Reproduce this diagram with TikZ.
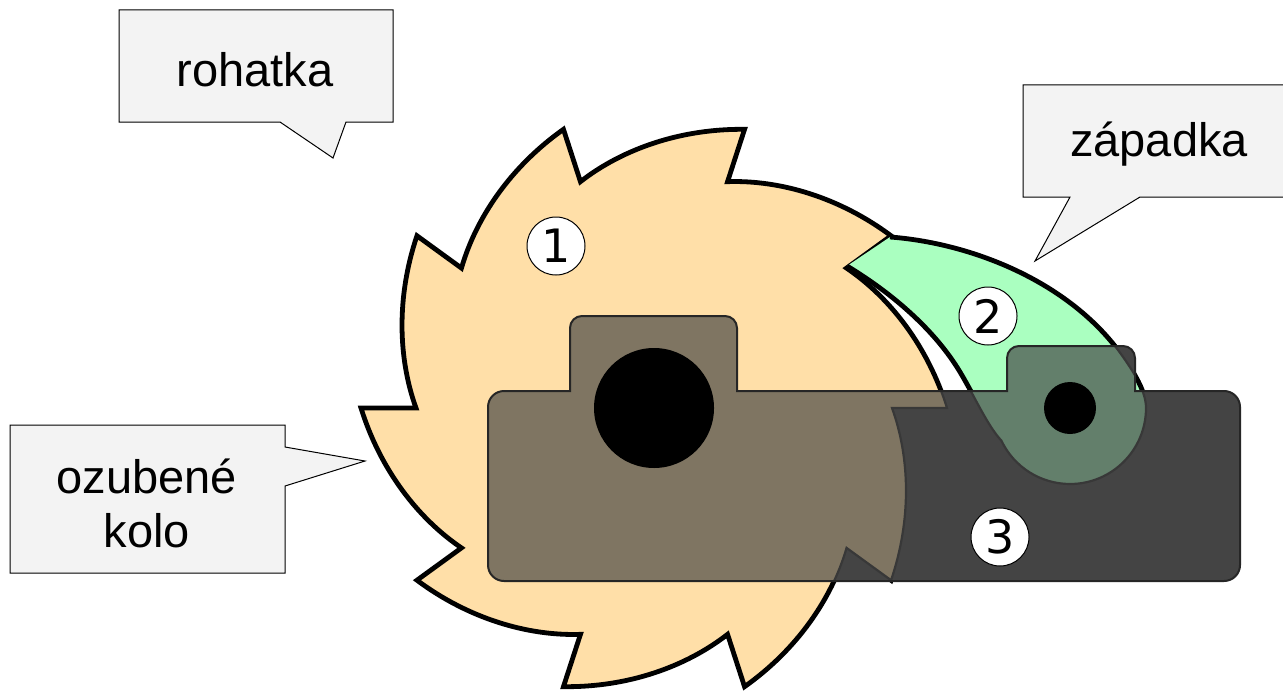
\documentclass[tikz,border=0pt]{standalone}
\usepackage{fontspec}
\setmainfont{Liberation Sans}
\newfontfamily\digitfont{DejaVu Sans}
\definecolor{gearfill}{HTML}{FFDFA8}
\definecolor{pawlfill}{HTML}{AAFFC0}
\definecolor{platefill}{HTML}{444444}
\definecolor{geardark}{HTML}{7F7562}
\definecolor{pawldark}{HTML}{637F6B}
\definecolor{calloutfill}{HTML}{F3F3F3}
\tikzset{
  callout/.style={draw=black,fill=calloutfill,line width=.5pt,line join=miter},
  calltext/.style={font=\fontsize{23.5pt}{27.5pt}\selectfont,align=center,inner sep=0pt,text=black},
  numdisc/.style={circle,draw=black,fill=white,line width=.5pt,minimum size=29pt,inner sep=0pt,font=\digitfont\fontsize{23pt}{25pt}\selectfont},
  heavy/.style={draw=black,line width=2.4pt,line join=miter},
  gearpos/.style={shift={(654,-408)}},
  seamline/.style={draw=black!78,line width=1.1pt},
}
\def\gearpath{(72+36:238) foreach \a in {72,36,0,-36,-72,-108,-144,-180,-216,-252}{
   .. controls ({\a+25}:260.8) and ({\a+12.6}:280.7) .. (\a:293) -- (\a:238)} -- cycle}
\def\pawledge{(890,-237)
   .. controls (970,-243) and (1065,-280) .. (1118,-350)
   .. controls (1135,-373) and (1146,-392) .. (1146,-408)
   arc[start angle=0,end angle=-154.5,radius=76]
   .. controls (987,-425) and (975,-397) .. (960,-372)
   .. controls (936,-332) and (895,-295) .. (847,-266)}
\def\platepath{(504,-391) -- (570,-391) -- (570,-328) arc[start angle=180,end angle=90,radius=12]
   -- (725,-316) arc[start angle=90,end angle=0,radius=12] -- (737,-391)
   -- (1007,-391) -- (1007,-358) arc[start angle=180,end angle=90,radius=12]
   -- (1123,-346) arc[start angle=90,end angle=0,radius=12] -- (1135,-391)
   -- (1224,-391) arc[start angle=90,end angle=0,radius=16] -- (1240,-565)
   arc[start angle=0,end angle=-90,radius=16] -- (504,-581)
   arc[start angle=270,end angle=180,radius=16] -- (488,-407)
   arc[start angle=180,end angle=90,radius=16] -- cycle}
\begin{document}
\begin{tikzpicture}[x=.5pt,y=.5pt]
\useasboundingbox (0,0) rectangle (1283,-690);
\fill[white] (0,0) rectangle (1283,-690);
% callouts
\draw[callout] (119,-10) -- (393,-10) -- (393,-122) -- (346,-122) -- (333,-158) -- (280,-122) -- (119,-122) -- cycle;
\draw[callout] (1023,-85) -- (1290,-85) -- (1290,-197) -- (1140,-197) -- (1035,-261) -- (1070,-197) -- (1023,-197) -- cycle;
\draw[callout] (10,-425) -- (285,-425) -- (285,-447) -- (365,-461) -- (285,-486) -- (285,-573) -- (10,-573) -- cycle;
\node[calltext] (rohatka) at (255,-70) {rohatka};
\node[calltext] (zapadka) at (1159,-144) {západka};
\node[calltext] (ozubene) at (147,-476) {ozubené};
\node[calltext] (kolo) at (147,-531) {kolo};
% gear and pawl on white
\path[gearpos,fill=gearfill,heavy] \gearpath;
\fill[pawlfill] \pawledge -- cycle;
\draw[heavy] \pawledge;
% plate and what shows through it
\fill[platefill] \platepath;
\begin{scope}
  \clip \platepath;
  \path[gearpos,fill=geardark] \gearpath;
  \path[gearpos,seamline] \gearpath;
  \fill[pawldark] \pawledge -- cycle;
  \path[seamline] \pawledge;
\end{scope}
\draw[black!85,line width=1pt] \platepath;
% holes
\node[circle,fill=black,minimum size=60pt,inner sep=0pt] (gearhole) at (654,-408) {};
\node[circle,fill=black,minimum size=26pt,inner sep=0pt] (pawlhole) at (1070,-408) {};
% numbers
\node[numdisc] (n1) at (556,-246) {1};
\node[numdisc] (n2) at (988,-316) {2};
\node[numdisc] (n3) at (1000,-537) {3};
\end{tikzpicture}
\end{document}
